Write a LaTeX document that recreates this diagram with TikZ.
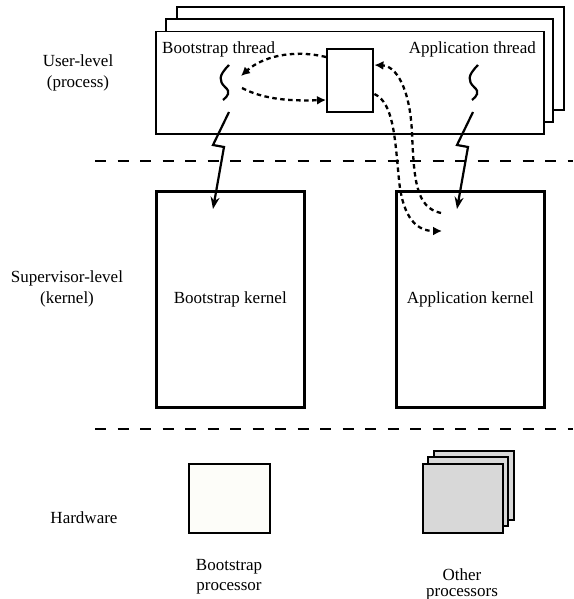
\documentclass[tikz,border=0pt]{standalone}
\usepackage{fontspec}
\setmainfont{Liberation Serif}
\usetikzlibrary{arrows.meta}
\begin{document}
\begin{tikzpicture}[x=1pt,y=-1pt,
  lbl/.style={font=\fontsize{17}{21}\selectfont, align=center, inner sep=0pt},
  frame/.style={draw, line width=1.5pt, fill=white},
  kbox/.style={draw, line width=2.6pt},
  level/.style={line width=2.5pt, dash pattern=on 11pt off 11.5pt},
  dots/.style={line width=2.3pt, dash pattern=on 4.5pt off 3.5pt, -{Latex[length=9pt,width=9pt]}},
  trap/.style={line width=2.2pt, line join=miter, -{Stealth[length=12pt,width=9pt]}},
  squig/.style={line width=2.2pt}]
\useasboundingbox (0,0) rectangle (573,599);

% process stack
\draw[frame] (177,7) rectangle (564,110);
\draw[frame] (166,19) rectangle (553,122);
\node[frame, minimum width=388pt, minimum height=102pt, anchor=north west, inner sep=0pt] (proc) at (155,31) {};

\node[lbl, anchor=base west] (bt) at (162,54) {Bootstrap thread};
\node[lbl, anchor=base east] (at) at (536,54) {Application thread};

% shared box between the threads
\node[draw, line width=2.4pt, minimum width=46pt, minimum height=63pt, inner sep=0pt, anchor=north west] (shm) at (326,48) {};

% thread squiggles
\draw[squig] (229,65) .. controls (218,76) and (219,81) .. (225,87) .. controls (231,92) and (228,96) .. (223,100);
\draw[squig] (478,65) .. controls (467,76) and (468,81) .. (474,87) .. controls (480,92) and (477,96) .. (472,100);

% level labels
\node[lbl] (ul) at (78,73) {User-level\\(process)};
\node[lbl] (sl) at (67,289) {Supervisor-level\\(kernel)};
\node[lbl] (hw) at (84,518) {Hardware};

% level separators
\coordinate (s1a) at (95,161);
\coordinate (s1b) at (573,161);
\coordinate (s2a) at (95,429);
\coordinate (s2b) at (573,429);
\draw[level] (s1a) -- (s1b);
\draw[level] (s2a) -- (s2b);

% kernels
\node[kbox, minimum width=148pt, minimum height=216pt, inner sep=0pt, anchor=north west] (bk) at (155,190) {};
\node[kbox, minimum width=148pt, minimum height=216pt, inner sep=0pt, anchor=north west] (ak) at (395,190) {};
\node[lbl] at (bk.center) {Bootstrap kernel};
\node[lbl] at (ak.center) {Application kernel};

% traps into the kernels
\coordinate (bt0) at (229,112);
\coordinate (bt1) at (213,145);
\coordinate (bt2) at (224,147);
\coordinate (bt3) at (213,209);
\draw[trap] (bt0) -- (bt1) -- (bt2) -- (bt3);
\coordinate (at0) at (473,112);
\coordinate (at1) at (457,145);
\coordinate (at2) at (468,147);
\coordinate (at3) at (457,209);
\draw[trap] (at0) -- (at1) -- (at2) -- (at3);

% dotted message paths
\coordinate (bin) at (241,76);
\coordinate (bout) at (242,88);
\coordinate (kin) at (442,231);
\coordinate (kout) at (441,213);
\draw[dots] (shm.west |- 0,57) .. controls (292,49) and (262,57) .. (bin);
\draw[dots] (bout) .. controls (265,100) and (292,101) .. (shm.west |- 0,100);
\draw[dots] (shm.east |- 0,94) .. controls (394,103) and (395,140) .. (399,180) .. controls (403,220) and (418,231) .. (kin);
\draw[dots] (kout) .. controls (416,208) and (414,180) .. (412,133) .. controls (410,88) and (396,66) .. (shm.east |- 0,65);

% processors
\node[draw, line width=2.2pt, fill={rgb,255:red,253;green,253;blue,249}, minimum width=81pt, minimum height=69pt, inner sep=0pt, anchor=north west] (bp) at (188,463) {};
\draw[line width=2pt, fill={rgb,255:red,216;green,216;blue,216}] (434,451) rectangle (514,520);
\draw[line width=2pt, fill={rgb,255:red,216;green,216;blue,216}] (428,457) rectangle (508,526);
\node[draw, line width=2pt, fill={rgb,255:red,216;green,216;blue,216}, minimum width=80pt, minimum height=69pt, inner sep=0pt, anchor=north west] (op) at (422,463) {};
\node[lbl, anchor=base] (bpl1) at (229,570) {Bootstrap};
\node[lbl, anchor=base] (bpl2) at (229,590) {processor};
\node[lbl, anchor=base] (opl1) at (462,580) {Other};
\node[lbl, anchor=base] (opl2) at (462,596) {processors};
\end{tikzpicture}
\end{document}
